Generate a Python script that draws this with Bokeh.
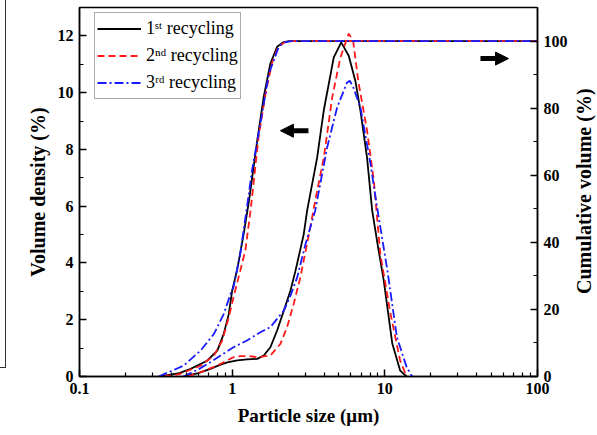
from bokeh.plotting import figure
from bokeh.layouts import row
from bokeh.models import (Range1d, LinearAxis, SingleIntervalTicker, FixedTicker, Legend,
                          LegendItem, Arrow, NormalHead, Div, CustomJSTickFormatter)
from bokeh.embed import file_html
from bokeh.resources import INLINE

# ---------------- data ----------------
series_names = ["1ˢᵗ recycling", "2ⁿᵈ recycling", "3ʳᵈ recycling"]

# volume density (left axis, %)
size_d1 = [0.48, 0.6, 0.72, 0.84, 0.93, 1.08, 1.25, 1.46, 1.61, 1.78, 1.97, 2.18, 2.41, 2.6,
           2.94, 3.1, 3.6, 3.98, 4.63, 5.18, 5.8, 6.42, 6.92, 7.65, 8.26, 9.0, 9.84, 11.2, 12.6, 13.9]
dens_1 = [0, 0.12, 0.27, 0.42, 0.5, 0.57, 0.6, 0.62, 0.74, 1.03, 1.62, 2.32, 3.03, 3.73,
          5.0, 5.85, 7.7, 9.37, 11.24, 11.77, 11.3, 10.4, 9.37, 7.7, 5.85, 4.6, 3.38, 1.15, 0.21, 0]

size_d2 = [0.51, 0.62, 0.8, 1.02, 1.13, 1.3, 1.46, 1.78, 2.07, 2.29, 2.53, 2.8, 3.26, 3.5,
           3.98, 4.52, 5.12, 5.8, 6.2, 6.7, 7.65, 8.47, 9.35, 10.9, 12.6, 13.9]
dens_2 = [0, 0.15, 0.39, 0.68, 0.72, 0.72, 0.68, 0.74, 1.15, 1.74, 2.56, 3.5, 5.3, 6.2,
          7.7, 9.83, 11.24, 12.08, 11.83, 10.4, 8.66, 6.9, 4.3, 2.2, 0.56, 0]

size_d3 = [0.48, 0.6, 0.72, 0.84, 1.02, 1.25, 1.53, 1.78, 2.18, 2.41, 2.67, 3.0, 3.5, 4.19,
           4.87, 5.66, 5.89, 6.2, 6.92, 8.05, 8.9, 10.4, 12.0, 13.9, 15.1]
dens_3 = [0, 0.25, 0.5, 0.74, 1.03, 1.27, 1.56, 1.74, 2.32, 2.85, 3.5, 4.6, 5.85, 8.07,
          9.48, 10.36, 10.42, 10.2, 9.48, 7.5, 5.96, 3.73, 1.38, 0.33, 0]

# cumulative volume (right axis, %)
size_c1 = [0.34, 0.45, 0.53, 0.685, 0.8, 0.88, 0.95, 1.0, 1.08, 1.19, 1.29, 1.46, 1.61, 1.78,
           1.97, 2.15, 2.35, 100]
cum_1 = [0, 1.0, 2.2, 4.7, 7.7, 12.7, 18.6, 25.6, 32.0, 42.5, 52.5, 70.4, 83.4, 93.3,
         98.3, 99.6, 100, 100]

size_c2 = [0.36, 0.45, 0.62, 0.76, 0.86, 0.95, 1.02, 1.08, 1.22, 1.32, 1.49, 1.65, 1.82, 2.0,
           2.2, 2.4, 100]
cum_2 = [0, 0.7, 3.2, 6.2, 10.7, 17.6, 23.6, 28.0, 37.6, 49.5, 71.4, 84.0, 93.3, 98.3,
         99.6, 100, 100]

size_c3 = [0.33, 0.48, 0.62, 0.76, 0.88, 0.975, 1.02, 1.13, 1.25, 1.35, 1.53, 1.74, 2.02,
           2.2, 2.45, 100]
cum_3 = [0, 3.2, 7.7, 12.7, 18.6, 24.6, 26.6, 36.6, 50.5, 61.5, 75.4, 90.3, 98.3,
         99.6, 100, 100]

x_ticks = [0.1, 1, 10, 100]
right_title = "Cumulative volume (%)"

# arrow annotations (data coordinates of the two indicator arrows)
arrow_left = dict(x_start=3.16, x_end=2.07, y=8.66)
arrow_right = dict(x_start=42.3, x_end=64.6, y=11.2)

# ---------------- styles ----------------
FONT = "Liberation Serif"
colors = ["black", "#ff1a1a", "#1a1aff"]
dashes = ["solid", "7 4", "9 3 2 3"]
LW = 1.8

p = figure(width=566, height=435, x_axis_type="log",
           x_range=Range1d(0.1, 100), y_range=Range1d(0, 13),
           output_backend="svg", toolbar_location=None,
           min_border_left=73, min_border_right=35, min_border_top=7, min_border_bottom=59,
           margin=0)
p.extra_y_ranges = {"cum": Range1d(0, 110)}
p.grid.visible = False
p.outline_line_color = "black"
p.outline_line_width = 1.5
p.background_fill_color = "white"
p.border_fill_color = "white"

dens_sizes = [size_d1, size_d2, size_d3]
dens_vals = [dens_1, dens_2, dens_3]
cum_sizes = [size_c1, size_c2, size_c3]
cum_vals = [cum_1, cum_2, cum_3]

renderers = []
for i in range(3):
    p.line(cum_sizes[i], cum_vals[i], y_range_name="cum", line_color=colors[i],
           line_dash=dashes[i], line_width=LW)
    rd = p.line(dens_sizes[i], dens_vals[i], line_color=colors[i],
                line_dash=dashes[i], line_width=LW)
    renderers.append(rd)

# axes
xa = p.xaxis[0]
xa.ticker = FixedTicker(ticks=x_ticks,
                        minor_ticks=[k * 10.0 ** e for e in (-1, 0, 1) for k in range(2, 10)])
xa.formatter = CustomJSTickFormatter(code="return String(tick);")
ya = p.yaxis[0]
ya.ticker = SingleIntervalTicker(interval=2, num_minor_ticks=2)
ra = LinearAxis(y_range_name="cum", ticker=SingleIntervalTicker(interval=20, num_minor_ticks=2))
p.add_layout(ra, "right")

xa.axis_label = "Particle size (μm)"
ya.axis_label = "Volume density (%)"

for ax in (xa, ya, ra):
    ax.axis_line_width = 1.5
    ax.major_tick_line_width = 1.5
    ax.minor_tick_line_width = 1.2
    ax.major_tick_in = 7
    ax.major_tick_out = 0
    ax.minor_tick_in = 4
    ax.minor_tick_out = 0
    ax.major_label_text_font = FONT
    ax.major_label_text_font_style = "bold"
    ax.major_label_text_font_size = "16px"
    ax.major_label_text_color = "black"
    ax.axis_label_text_font = FONT
    ax.axis_label_text_font_style = "bold"
    ax.axis_label_text_font_size = "20px"
    ax.axis_label_text_color = "black"
    ax.major_label_standoff = 6

xa.axis_label_text_font_size = "19px"
xa.axis_label_standoff = 8
ya.axis_label_standoff = 6

# legend
legend = Legend(items=[LegendItem(label=series_names[i], renderers=[renderers[i]]) for i in range(3)],
                location=(15, 277), glyph_width=44, glyph_height=27, label_height=27,
                label_standoff=5, spacing=0, padding=2, margin=0,
                border_line_color="#555555", border_line_width=1.2,
                label_text_font=FONT, label_text_font_size="18px", label_text_color="black",
                background_fill_alpha=1.0)
p.add_layout(legend)

# indicator arrows
for a in (arrow_left, arrow_right):
    p.add_layout(Arrow(end=NormalHead(size=13, fill_color="black", line_color="black", line_width=1),
                       x_start=a["x_start"], y_start=a["y"], x_end=a["x_end"], y_end=a["y"],
                       line_width=5, line_color="black"))

# edge of the neighbouring panel visible at the left border of the picture
edge = Div(text="", width=6, height=368, margin=0,
           styles={"border-right": "1.2px solid #333", "border-bottom": "1.2px solid #333",
                   "box-sizing": "border-box"})

# right-axis title, reading bottom-to-top as in the original
right_label = Div(
    text=('<div style="margin-top:7px;height:369px;width:25px;line-height:25px;'
          'writing-mode:vertical-rl;transform:rotate(180deg);text-align:center;'
          'white-space:nowrap;font-family:\'Liberation Serif\';font-weight:bold;'
          'font-size:20px;color:black;">' + right_title + '</div>'),
    width=25, height=435, margin=0)

layout = row(edge, p, right_label, spacing=0, margin=0)
open("out.html", "w").write(file_html(layout, INLINE))
